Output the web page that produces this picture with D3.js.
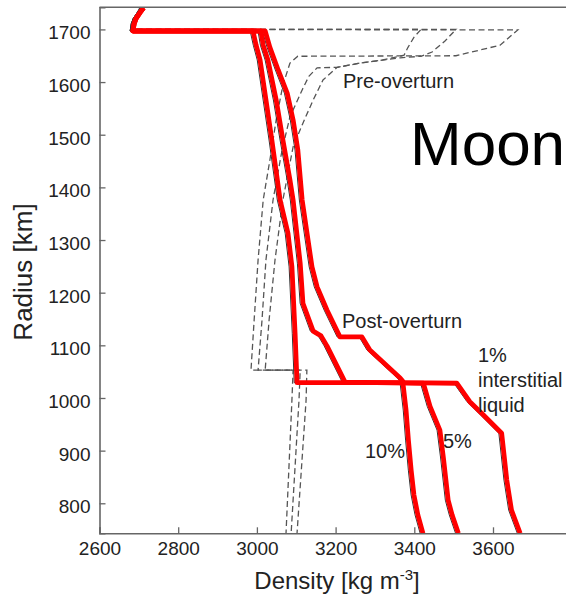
<!DOCTYPE html>
<html><head><meta charset="utf-8">
<script src="https://cdn.jsdelivr.net/npm/d3@7"></script>
<style>body{margin:0;background:#fff}text{font-family:"Liberation Sans",Arial,Helvetica,sans-serif}</style>
</head><body><svg id="c" width="566" height="597"></svg>
<script>
const xTicks = [2600, 2800, 3000, 3200, 3400, 3600];
const yTicks = [800, 900, 1000, 1100, 1200, 1300, 1400, 1500, 1600, 1700];

// Post-overturn profiles [density, radius]
const post10 = [[2712,1741],[2702,1731],[2693,1721],[2688,1711],[2685,1697],[2990,1697],[2998,1670],[3008,1642],[3023,1566],[3038,1490],[3059,1376],[3079,1313],[3089,1249],[3097,1123],[3102,1029],[3371,1029],[3379,977],[3385,920],[3392,863],[3399,816],[3409,778],[3422,743]];
const post5 = [[2712,1741],[2702,1731],[2693,1721],[2688,1711],[2685,1697],[3010,1697],[3016,1670],[3028,1642],[3049,1566],[3066,1490],[3084,1414],[3092,1376],[3110,1256],[3117,1180],[3143,1127],[3163,1118],[3178,1099],[3224,1030],[3423,1028],[3440,984],[3465,939],[3474,886],[3486,806],[3496,778],[3512,743]];
const post1 = [[2712,1741],[2702,1731],[2693,1721],[2688,1711],[2685,1697],[3021,1697],[3033,1666],[3054,1623],[3077,1579],[3092,1528],[3104,1471],[3115,1376],[3140,1249],[3153,1211],[3178,1167],[3211,1116],[3267,1116],[3287,1091],[3364,1038],[3374,1029],[3508,1028],[3541,993],[3575,968],[3622,933],[3628,892],[3635,844],[3647,787],[3669,743]];

// Pre-overturn profiles
const preA = [[2703,1741],[2690,1722],[2681,1700],[3663,1699],[3618,1670],[3506,1650],[3104,1649],[3084,1636],[3066,1594],[3049,1528],[3033,1452],[3016,1376],[3003,1262],[2993,1148],[2985,1053],[3092,1053],[3089,996],[3074,743]];
const preB = [[2703,1741],[2690,1722],[2681,1700],[3506,1700],[3478,1678],[3445,1657],[3417,1649],[3364,1646],[3262,1636],[3204,1628],[3153,1627],[3132,1611],[3115,1585],[3084,1534],[3064,1471],[3041,1376],[3023,1262],[3013,1148],[3003,1053],[3110,1053],[3107,996],[3087,743]];
const preC = [[2703,1741],[2690,1722],[2681,1700],[3417,1700],[3399,1685],[3384,1666],[3374,1651],[3320,1642],[3262,1636],[3204,1628],[3168,1604],[3143,1566],[3117,1522],[3092,1477],[3066,1376],[3046,1262],[3031,1148],[3021,1053],[3127,1053],[3125,996],[3102,743]];

const svg = d3.select("#c");
const x = d3.scaleLinear().domain([2600, 3800]).range([99.5, 571.7]);
const y = d3.scaleLinear().domain([743, 1742]).range([533.3, 7.3]);

svg.append("defs").append("clipPath").attr("id","clip")
  .append("rect").attr("x",99.5).attr("y",7.3).attr("width",470).attr("height",526);

const line = d3.line().x(d=>x(d[0])).y(d=>y(d[1]));
const g = svg.append("g").attr("clip-path","url(#clip)");

[preA, preB, preC].forEach(p => {
  g.append("path").attr("d", line(p)).attr("fill","none")
   .attr("stroke","#555").attr("stroke-width",1.3).attr("stroke-dasharray","6,3.5");
});
[post10, post5, post1].forEach(p => {
  g.append("path").attr("d", line(p)).attr("fill","none")
   .attr("stroke","#333").attr("stroke-width",1).attr("transform","translate(-2.8,0)");
});
[post10, post5, post1].forEach(p => {
  g.append("path").attr("d", line(p)).attr("fill","none")
   .attr("stroke","#ff0000").attr("stroke-width",4.8).attr("stroke-linejoin","round");
});

// axes
const axCol = "#666";
const yAxis = svg.append("g").attr("transform","translate(99.5,0)")
  .call(d3.axisLeft(y).tickValues(yTicks).tickSize(-6).tickPadding(9).tickFormat(d3.format("d")));
const xAxis = svg.append("g").attr("transform","translate(0,533.3)")
  .call(d3.axisBottom(x).tickValues(xTicks).tickSize(-6).tickPadding(8).tickFormat(d3.format("d")));
[yAxis, xAxis].forEach(a => {
  a.select(".domain").attr("stroke",axCol).attr("stroke-width",1.6);
  a.selectAll(".tick line").attr("stroke",axCol).attr("stroke-width",1.3);
  a.selectAll(".tick text").attr("fill","#222").style("font-size","19px");
});
yAxis.selectAll(".tick text").attr("dy","0.5em");
svg.append("line").attr("x1",99.5).attr("x2",566).attr("y1",7.3).attr("y2",7.3)
  .attr("stroke",axCol).attr("stroke-width",1.6);

// titles
svg.append("text").attr("transform","translate(32,272) rotate(-90)").attr("text-anchor","middle")
  .attr("fill","#222").style("font-size","26px").text("Radius [km]");
const xt = svg.append("text").attr("x",337).attr("y",589).attr("text-anchor","middle")
  .attr("fill","#222").style("font-size","24px");
xt.append("tspan").text("Density [kg m");
xt.append("tspan").attr("dy",-9).style("font-size","15px").text("-3");
xt.append("tspan").attr("dy",9).text("]");

// annotations
const ann = [
  {t:"Pre-overturn", x:343, y:88.3, s:20},
  {t:"Post-overturn", x:342, y:328.3, s:20},
  {t:"1%", x:478, y:362, s:20},
  {t:"interstitial", x:478, y:387, s:20},
  {t:"liquid", x:478, y:412, s:20},
  {t:"5%", x:443, y:448, s:20},
  {t:"10%", x:365, y:458, s:20},
  {t:"Moon", x:410, y:165, s:62}
];
svg.selectAll("text.ann").data(ann).enter().append("text").attr("class","ann")
  .attr("x",d=>d.x).attr("y",d=>d.y).style("font-size",d=>d.s+"px")
  .attr("fill",d=>d.s>30?"#000":"#222").text(d=>d.t);
</script></body></html>
